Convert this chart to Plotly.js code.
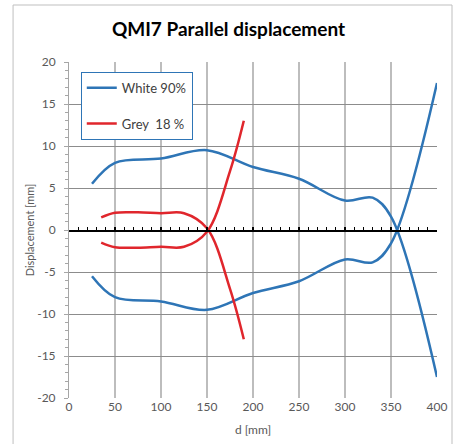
<!DOCTYPE html>
<html>
<head>
<meta charset="utf-8">
<script src="https://cdn.plot.ly/plotly-3.0.1.min.js"></script>
<style>html,body{margin:0;padding:0;background:#fff;}#chart{width:457px;height:444px;}</style>
</head>
<body>
<div id="chart"></div>
<script>
// Data
var whiteX = [25, 50, 100, 150, 200, 250, 300, 330, 350, 400];
var whiteUpper = [5.5, 8.0, 8.5, 9.5, 7.5, 6.1, 3.5, 3.85, 1.6, -17.5];
var whiteLower = [-5.5, -8.0, -8.5, -9.5, -7.5, -6.1, -3.5, -3.85, -1.6, 17.5];

var greyX = [35, 50, 75, 100, 125, 150, 175, 190];
var greyUpper = [1.5, 2.05, 2.1, 2.0, 2.0, 0.2, -7.0, -13.0];
var greyLower = [-1.5, -2.05, -2.1, -2.0, -2.0, -0.2, 7.0, 13.0];

var xTicks = [0, 50, 100, 150, 200, 250, 300, 350, 400];
var yTicks = [-20, -15, -10, -5, 0, 5, 10, 15, 20];

var blue = '#2E75B6';
var red = '#E0262C';
var FONT = 'Lato, "Open Sans", sans-serif';

var traces = [
  {x: whiteX, y: whiteUpper, name: 'White 90%', legendgroup: 'w', mode: 'lines',
   line: {color: blue, width: 2.5, shape: 'spline', smoothing: 1}, xaxis: 'x', yaxis: 'y'},
  {x: whiteX, y: whiteLower, name: 'White 90%', legendgroup: 'w', showlegend: false, mode: 'lines',
   line: {color: blue, width: 2.5, shape: 'spline', smoothing: 1}, xaxis: 'x', yaxis: 'y'},
  {x: greyX, y: greyUpper, name: 'Grey\u00a0 18 %', legendgroup: 'g', mode: 'lines',
   line: {color: red, width: 2.5, shape: 'spline', smoothing: 1}, xaxis: 'x2', yaxis: 'y'},
  {x: greyX, y: greyLower, name: 'Grey\u00a0 18 %', legendgroup: 'g', showlegend: false, mode: 'lines',
   line: {color: red, width: 2.5, shape: 'spline', smoothing: 1}, xaxis: 'x2', yaxis: 'y'}
];

var layout = {
  width: 457, height: 444,
  margin: {l: 69, r: 20, t: 62, b: 46},
  paper_bgcolor: '#ffffff', plot_bgcolor: '#ffffff',
  font: {family: FONT, color: '#595959', size: 12},
  showlegend: true,
  title: {text: '<b>QMI7 Parallel displacement</b>', x: 0.5, xanchor: 'center', y: 0.935, yanchor: 'middle',
          xref: 'container', font: {family: FONT, size: 19, color: '#000000'}},
  xaxis: {
    range: [0, 400], tickvals: xTicks, ticktext: xTicks.map(String),
    showgrid: true, gridcolor: '#BDBDBD', gridwidth: 2,
    zeroline: false, showline: false, ticks: '',
    tickfont: {family: FONT, size: 12, color: '#595959'},
    title: {text: 'd [mm]', font: {family: FONT, size: 12, color: '#595959'}, standoff: 12},
    fixedrange: true
  },
  xaxis2: {
    range: [0, 400], overlaying: 'x', anchor: 'free', position: 0.5, side: 'bottom',
    showgrid: false, zeroline: false, showline: true, linecolor: '#000000', linewidth: 1.5,
    ticks: 'inside', ticklen: 3, tickwidth: 1.2, tickcolor: '#000000', dtick: 10, tick0: 0,
    showticklabels: false, fixedrange: true
  },
  yaxis: {
    range: [-20, 20], tickvals: yTicks, ticktext: yTicks.map(String),
    showgrid: true, gridcolor: '#8C8C8C', gridwidth: 1,
    zeroline: false, showline: true, linecolor: '#A6A6A6', linewidth: 1,
    ticks: 'outside', ticklen: 4, tickcolor: '#A6A6A6',
    minor: {dtick: 1, ticks: 'outside', ticklen: 3, tickcolor: '#A6A6A6', showgrid: false},
    ticklabelstandoff: 6,
    tickfont: {family: FONT, size: 12, color: '#595959'},
    title: {text: 'Displacement [mm]', font: {family: FONT, size: 11, color: '#595959'}, standoff: 0},
    fixedrange: true
  },
  legend: {
    x: 0.032, y: 0.971, xanchor: 'left', yanchor: 'top',
    bgcolor: '#ffffff', bordercolor: blue, borderwidth: 1,
    font: {family: FONT, size: 13, color: '#404040'},
    traceorder: 'grouped', tracegroupgap: 16, itemwidth: 30
  },
  shapes: [
    {type: 'rect', xref: 'paper', yref: 'paper', x0: -0.152, x1: 1.0408, y0: -0.16, y1: 1.1696,
     line: {color: '#BFBFBF', width: 1}, fillcolor: 'rgba(0,0,0,0)', layer: 'below'}
  ]
};

Plotly.newPlot('chart', traces, layout, {staticPlot: true, displayModeBar: false});
</script>
</body>
</html>
